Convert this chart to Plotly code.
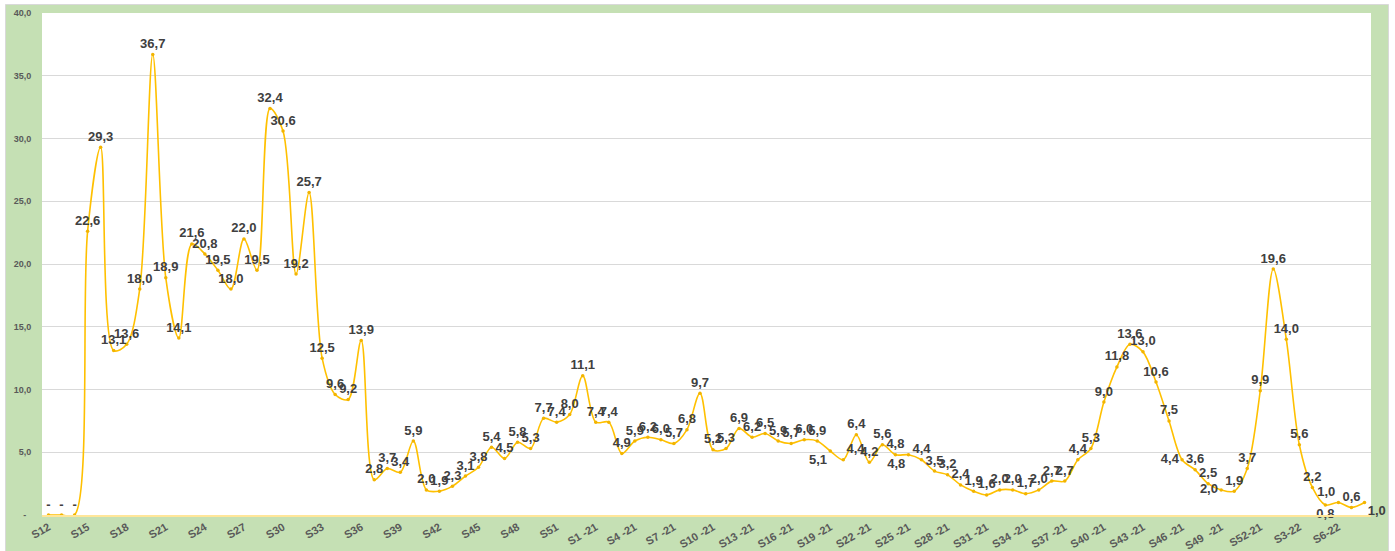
import plotly.graph_objects as go

# ---------------- data ----------------
weeks_2020 = [f"S{i}" for i in range(12, 54)]
weeks_2021 = [f"S{i}-21" for i in range(1, 53)]
weeks_2022 = [f"S{i}-22" for i in range(1, 9)]
categories = weeks_2020 + weeks_2021 + weeks_2022

values_2020 = [0, 0, 0, 22.6, 29.3, 13.1, 13.6, 18.0, 36.7, 18.9, 14.1, 21.6, 20.8, 19.5,
               18.0, 22.0, 19.5, 32.4, 30.6, 19.2, 25.7, 12.5, 9.6, 9.2, 13.9, 2.8, 3.7,
               3.4, 5.9, 2.0, 1.9, 2.3, 3.1, 3.8, 5.4, 4.5, 5.8, 5.3, 7.7, 7.4, 8.0, 11.1]
values_2021 = [7.4, 7.4, 4.9, 5.9, 6.2, 6.0, 5.7, 6.8, 9.7, 5.2, 5.3, 6.9, 6.2, 6.5, 5.9,
               5.7, 6.0, 5.9, 5.1, 4.4, 6.4, 4.2, 5.6, 4.8, 4.8, 4.4, 3.5, 3.2, 2.4, 1.9,
               1.6, 2.0, 2.0, 1.7, 2.0, 2.7, 2.7, 4.4, 5.3, 9.0, 11.8, 13.6, 13.0, 10.6,
               7.5, 4.4, 3.6, 2.5, 2.0, 1.9, 3.7, 9.9]
values_2022 = [19.6, 14.0, 5.6, 2.2, 0.8, 1.0, 0.6, 1.0]
values = values_2020 + values_2021 + values_2022

tick_labels = ["S12", "S15", "S18", "S21", "S24", "S27", "S30", "S33", "S36", "S39",
               "S42", "S45", "S48", "S51",
               "S1 -21", "S4 -21", "S7 -21", "S10 -21", "S13 -21", "S16 -21", "S19 -21",
               "S22 -21", "S25 -21", "S28 -21", "S31 -21", "S34 -21", "S37 -21",
               "S40 -21", "S43 -21", "S46 -21", "S49  -21", "S52-21",
               "S3-22", "S6-22"]

y_tick_values = [0, 5, 10, 15, 20, 25, 30, 35, 40]
y_tick_labels = ["-  ", "5,0", "10,0", "15,0", "20,0", "25,0", "30,0", "35,0", "40,0"]

# ---------------- labels ----------------
def fmt(v):
    return "-" if v == 0 else f"{v:.1f}".replace(".", ",")

labels = [fmt(v) for v in values]

special_positions = {
    "S19-21": "bottom left",
    "S20-21": "top right",
    "S25-21": "bottom left",
    "S46-21": "middle left",
    "S49-21": "middle left",
    "S5-22": "bottom center",
    "S6-22": "top left",
    "S8-22": "bottom right",
}
text_positions = [special_positions.get(c, "top center") for c in categories]

# ---------------- layout geometry (pixels) ----------------
W, H = 1395, 551
L, R, T, B = 42, 24, 13, 36
pw, ph = W - L - R, H - T - B

def px(x):
    return (x - L) / pw

def py(y):
    return (H - B - y) / ph

GREEN = "#C5E0B4"
GOLD = "#FFC000"

fig = go.Figure()
fig.add_trace(go.Scatter(
    x=categories,
    y=values,
    mode="lines+markers+text",
    line=dict(color=GOLD, width=1.6, shape="spline", smoothing=0.9),
    marker=dict(color="#F2B400", size=3.5),
    text=labels,
    textposition=text_positions,
    textfont=dict(family="Liberation Sans, Arial, sans-serif", size=13,
                  color="#404040", weight="bold"),
    cliponaxis=False,
    hoverinfo="x+y",
))

shapes = [
    # white outer strips
    dict(type="rect", xref="paper", yref="paper", x0=px(0), x1=px(5.5),
         y0=py(H), y1=py(0), fillcolor="white", line_width=0, layer="above"),
    dict(type="rect", xref="paper", yref="paper", x0=px(0), x1=px(W),
         y0=py(4.5), y1=py(0), fillcolor="white", line_width=0, layer="above"),
    dict(type="rect", xref="paper", yref="paper", x0=px(1388.5), x1=px(W),
         y0=py(H), y1=py(0), fillcolor="white", line_width=0, layer="above"),
    # thin grey frame
    dict(type="line", xref="paper", yref="paper", x0=px(5.5), x1=px(5.5),
         y0=py(H), y1=py(4.5), line=dict(color="#D9D9D9", width=1), layer="above"),
    dict(type="line", xref="paper", yref="paper", x0=px(5.5), x1=px(1388.5),
         y0=py(4.5), y1=py(4.5), line=dict(color="#D9D9D9", width=1), layer="above"),
    dict(type="line", xref="paper", yref="paper", x0=px(1388.5), x1=px(1388.5),
         y0=py(H), y1=py(4.5), line=dict(color="#D9D9D9", width=1), layer="above"),
]

fig.update_layout(
    width=W, height=H,
    margin=dict(l=L, r=R, t=T, b=B, pad=0, autoexpand=False),
    paper_bgcolor=GREEN,
    plot_bgcolor="white",
    showlegend=False,
    shapes=shapes,
    font=dict(family="Liberation Sans, Arial, sans-serif", color="#595959"),
)

fig.update_xaxes(
    type="category",
    categoryorder="array",
    categoryarray=categories,
    range=[-0.5, len(categories) - 0.5],
    tickmode="array",
    tickvals=categories[::3],
    ticktext=tick_labels,
    tickangle=-30,
    tickfont=dict(size=11, color="#595959", weight="bold"),
    showgrid=False,
    showline=True,
    linecolor="#FFE699",
    linewidth=1.5,
    ticks="",
    zeroline=False,
    automargin=False,
    fixedrange=True,
)

fig.update_yaxes(
    range=[0, 40],
    tickmode="array",
    tickvals=y_tick_values,
    ticktext=y_tick_labels,
    tickfont=dict(size=9, color="#595959", weight="bold"),
    showgrid=True,
    gridcolor="#D9D9D9",
    gridwidth=1,
    zeroline=False,
    showline=False,
    ticks="outside",
    ticklen=8,
    tickcolor="rgba(0,0,0,0)",
    automargin=False,
    fixedrange=True,
)

fig.write_html(
    "out.html",
    config={"displayModeBar": False},
    post_script="document.body.style.margin='0px';document.body.style.overflow='hidden';",
)
